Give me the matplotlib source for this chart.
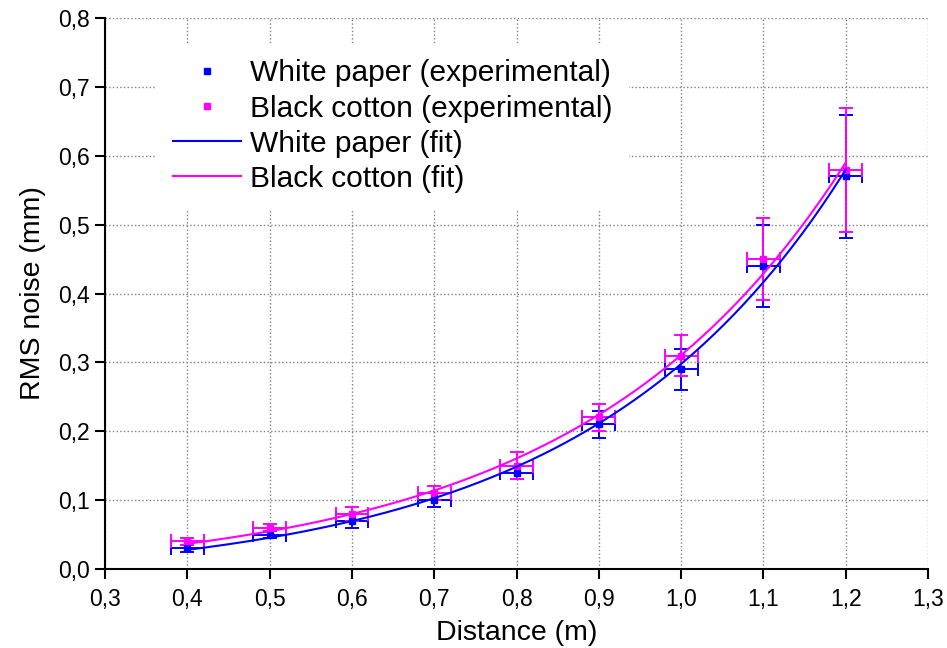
import numpy as np
import matplotlib
matplotlib.use('Agg')
import matplotlib.pyplot as plt
from matplotlib.lines import Line2D
from matplotlib.ticker import FuncFormatter, MultipleLocator

plt.rcParams['font.family'] = ['Liberation Sans', 'DejaVu Sans']

distance = [0.4, 0.5, 0.6, 0.7, 0.8, 0.9, 1.0, 1.1, 1.2]
distance_err = [0.02, 0.02, 0.02, 0.02, 0.02, 0.02, 0.02, 0.02, 0.02]

white_rms = [0.03, 0.05, 0.07, 0.10, 0.14, 0.21, 0.29, 0.44, 0.57]
white_err = [0.005, 0.005, 0.01, 0.01, 0.01, 0.02, 0.03, 0.06, 0.09]

black_rms = [0.04, 0.06, 0.08, 0.11, 0.15, 0.22, 0.31, 0.45, 0.58]
black_err = [0.005, 0.005, 0.01, 0.01, 0.02, 0.02, 0.03, 0.06, 0.09]

blue = '#0000ff'
magenta = '#ff00ff'


def exp_fit(x, y):
    # least squares fit of y = y0 + A*exp(b*x): scan b, solve y0 and A linearly
    x = np.asarray(x)
    y = np.asarray(y)
    best = None
    for b in np.linspace(0.5, 10, 2000):
        M = np.column_stack([np.ones_like(x), np.exp(b * x)])
        coef, *_ = np.linalg.lstsq(M, y, rcond=None)
        sse = np.sum((M @ coef - y) ** 2)
        if best is None or sse < best[0]:
            best = (sse, b, coef)
    _, b, (y0, A) = best
    xs = np.linspace(x.min(), x.max(), 200)
    return xs, y0 + A * np.exp(b * xs)


fig = plt.figure(figsize=(9.47, 6.48), dpi=100)
ax = fig.add_axes([0.111, 0.122, 0.869, 0.850])

ax.grid(True, linestyle=':', color='#808080', linewidth=1.0, zorder=0)
ax.set_axisbelow(True)

for y, yerr, c in [(white_rms, white_err, blue), (black_rms, black_err, magenta)]:
    ax.errorbar(distance, y, yerr=yerr, xerr=distance_err, fmt='s', color=c,
                markersize=4, elinewidth=1.4, capsize=5, capthick=1.4, zorder=3)

xw, yw = exp_fit(distance, white_rms)
xb, yb = exp_fit(distance, black_rms)
ax.plot(xw, yw, color=blue, linewidth=1.5, zorder=4)
ax.plot(xb, yb, color=magenta, linewidth=1.5, zorder=4)

ax.set_xlim(0.3, 1.3)
ax.set_ylim(0.0, 0.8)
ax.xaxis.set_major_locator(MultipleLocator(0.1))
ax.yaxis.set_major_locator(MultipleLocator(0.1))
comma = FuncFormatter(lambda v, p: f'{v:.1f}'.replace('.', ','))
ax.xaxis.set_major_formatter(comma)
ax.yaxis.set_major_formatter(comma)

for s in ['top', 'right']:
    ax.spines[s].set_visible(False)
for s in ['left', 'bottom']:
    ax.spines[s].set_linewidth(1.5)
ax.tick_params(direction='out', length=7, width=1.5, labelsize=16.5)
ax.tick_params(axis='x', pad=7)
ax.tick_params(axis='y', pad=4)

fig.canvas.draw()
ax.get_ygridlines()[-1].set_visible(False)
ax.get_xgridlines()[-1].set_visible(False)

ax.set_xlabel('Distance (m)', fontsize=20.5, labelpad=6)
ax.set_ylabel('RMS noise (mm)', fontsize=20.5, labelpad=9)

handles = [
    Line2D([], [], linestyle='none', marker='s', markersize=4, color=blue),
    Line2D([], [], linestyle='none', marker='s', markersize=4, color=magenta),
    Line2D([], [], color=blue, linewidth=1.5),
    Line2D([], [], color=magenta, linewidth=1.5),
]
labels = ['White paper (experimental)', 'Black cotton (experimental)',
          'White paper (fit)', 'Black cotton (fit)']
leg = ax.legend(handles, labels, loc='upper left', bbox_to_anchor=(0.062, 0.955),
                borderaxespad=0, fontsize=21.5, frameon=True, framealpha=1,
                edgecolor='none', fancybox=False, labelspacing=0.24,
                handlelength=2.3, handletextpad=0.3, borderpad=0.55)
leg.set_zorder(5)

fig.savefig('out.png', dpi=100)
